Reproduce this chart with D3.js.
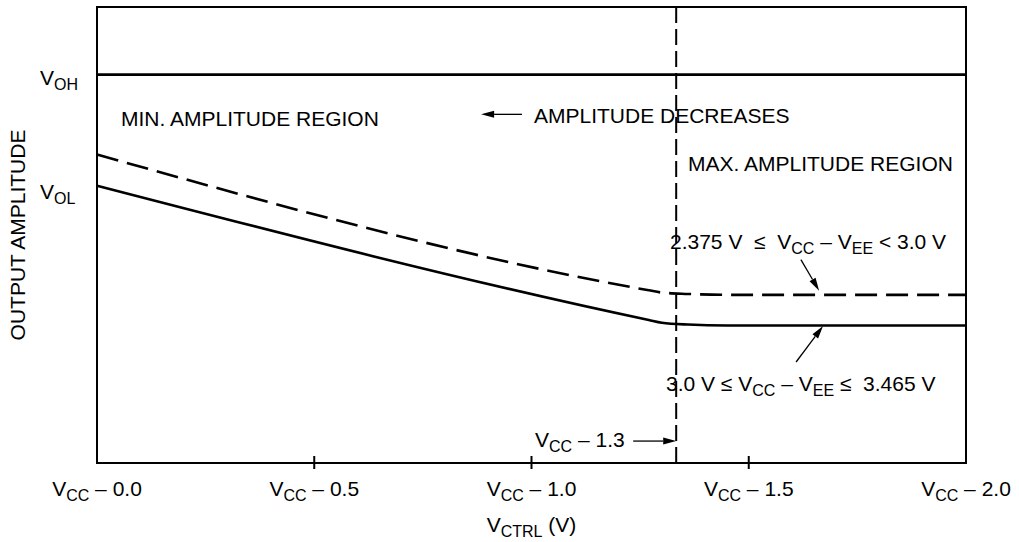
<!DOCTYPE html>
<html>
<head>
<meta charset="utf-8">
<script src="https://cdn.jsdelivr.net/npm/d3@7"></script>
<style>
  body { margin: 0; background: #fff; }
  svg { font-family: "Liberation Sans", Arial, sans-serif; }
  text { white-space: pre; }
</style>
</head>
<body>
<svg id="chart" width="1019" height="542"></svg>
<script>
// x is volts below VCC, y is output amplitude in relative units (0..100)
var xTicks = [0, 0.5, 1.0, 1.5, 2.0];
var xTickLabels = ["0.0", "0.5", "1.0", "1.5", "2.0"];
var vOH = 85;
var vOL = 59.6;
var vKnee = 1.333;
var lowSupplyX = [0, 1.27, 1.30, 1.36, 1.45, 2.0];
var lowSupplyY = [67.5, 37.8, 37.3, 37.0, 36.8, 36.8];
var highSupplyX = [0, 1.27, 1.30, 1.36, 1.45, 2.0];
var highSupplyY = [60.7, 31.3, 30.7, 30.3, 30.1, 30.1];

(function() {
  var svg, x, y, line, plot, left, right, top, bottom;
  left = 97; right = 966; top = 7; bottom = 463;
  svg = d3.select("#chart");
  x = d3.scaleLinear().domain([0, 2]).range([left, right]);
  y = d3.scaleLinear().domain([0, 100]).range([bottom, top - 0.96]);

  // writes "V" + subscript + rest as tspans
  function sublabel(sel, parts) {
    parts.forEach(function(p, i) {
      var t = sel.append("tspan").text(p[0]);
      if (p[1] === "sub") {
        t.attr("font-size", 16).attr("dy", 5);
      } else if (i > 0 && parts[i - 1][1] === "sub") {
        t.attr("dy", -5);
      }
    });
    return sel;
  }

  function arrow(x1, y1, x2, y2) {
    var a = Math.atan2(y2 - y1, x2 - x1), len = 13, w = 3.5;
    var bx = x2 - len * Math.cos(a), by = y2 - len * Math.sin(a);
    svg.append("line").attr("x1", x1).attr("y1", y1).attr("x2", bx).attr("y2", by)
      .attr("stroke", "#000").attr("stroke-width", 1.3);
    svg.append("path")
      .attr("d", "M" + x2 + "," + y2 +
        "L" + (bx + w * Math.sin(a)) + "," + (by - w * Math.cos(a)) +
        "L" + (bx - w * Math.sin(a)) + "," + (by + w * Math.cos(a)) + "Z")
      .attr("fill", "#000");
  }

  plot = svg.append("g");

  // frame
  plot.append("rect").attr("x", left).attr("y", top)
    .attr("width", right - left).attr("height", bottom - top)
    .attr("fill", "none").attr("stroke", "#000").attr("stroke-width", 2);

  // ticks cross the bottom axis
  plot.selectAll(".tick").data(xTicks.slice(1, -1)).enter().append("line")
    .attr("x1", function(d) { return x(d); }).attr("x2", function(d) { return x(d); })
    .attr("y1", bottom - 7).attr("y2", bottom + 6)
    .attr("stroke", "#000").attr("stroke-width", 2);

  xTicks.forEach(function(d, i) {
    sublabel(svg.append("text").attr("x", x(d)).attr("y", bottom + 33)
      .attr("text-anchor", "middle").attr("font-size", 21),
      [["V", ""], ["CC", "sub"], [" \u2013 " + xTickLabels[i], ""]]);
  });

  // VOH level
  plot.append("line").attr("x1", left).attr("x2", right)
    .attr("y1", y(vOH)).attr("y2", y(vOH))
    .attr("stroke", "#000").attr("stroke-width", 2.6);

  sublabel(svg.append("text").attr("x", 40).attr("y", y(vOH) + 10).attr("font-size", 21),
    [["V", ""], ["OH", "sub"]]);
  sublabel(svg.append("text").attr("x", 40).attr("y", y(vOL) + 8).attr("font-size", 21),
    [["V", ""], ["OL", "sub"]]);

  // knee marker
  plot.append("line").attr("x1", x(vKnee)).attr("x2", x(vKnee))
    .attr("y1", top).attr("y2", bottom)
    .attr("stroke", "#000").attr("stroke-width", 2)
    .attr("stroke-dasharray", "16,6");

  line = d3.line()
    .x(function(d) { return x(d[0]); })
    .y(function(d) { return y(d[1]); })
    .curve(d3.curveMonotoneX);

  plot.append("path").datum(d3.zip(lowSupplyX, lowSupplyY))
    .attr("d", line).attr("fill", "none").attr("stroke", "#000")
    .attr("stroke-width", 2.6).attr("stroke-dasharray", "22,9");

  plot.append("path").datum(d3.zip(highSupplyX, highSupplyY))
    .attr("d", line).attr("fill", "none").attr("stroke", "#000")
    .attr("stroke-width", 2.6);

  // axis titles
  sublabel(svg.append("text").attr("x", x(1.0)).attr("y", 532)
    .attr("text-anchor", "middle").attr("font-size", 21),
    [["V", ""], ["CTRL", "sub"], [" (V)", ""]]);
  svg.append("text").attr("transform", "translate(25," + ((top + bottom) / 2) + ") rotate(-90)")
    .attr("text-anchor", "middle").attr("font-size", 21).text("OUTPUT AMPLITUDE");

  // region notes
  svg.append("text").attr("x", 121).attr("y", 126).attr("font-size", 21).text("MIN. AMPLITUDE REGION");
  svg.append("text").attr("x", 534).attr("y", 123).attr("font-size", 21).text("AMPLITUDE DECREASES");
  arrow(x(0.978), y(76.3), x(0.884), y(76.3));
  svg.append("text").attr("x", 688).attr("y", 171).attr("font-size", 21).text("MAX. AMPLITUDE REGION");

  sublabel(svg.append("text").attr("x", 670).attr("y", 249).attr("font-size", 21),
    [["2.375 V  \u2264  V", ""], ["CC", "sub"], [" \u2013 V", ""], ["EE", "sub"], [" < 3.0 V", ""]]);
  arrow(x(1.620), y(44.5), x(1.662), y(37.7));

  sublabel(svg.append("text").attr("x", 666).attr("y", 391).attr("font-size", 21),
    [["3.0 V \u2264 V", ""], ["CC", "sub"], [" \u2013 V", ""], ["EE", "sub"], [" \u2264  3.465 V", ""]]);
  arrow(x(1.609), y(22.1), x(1.671), y(30.0));

  sublabel(svg.append("text").attr("x", 535).attr("y", 447).attr("font-size", 21),
    [["V", ""], ["CC", "sub"], [" \u2013 1.3", ""]]);
  arrow(x(1.234), y(4.8), x(vKnee), y(4.8));
}).call(this);
</script>
</body>
</html>
